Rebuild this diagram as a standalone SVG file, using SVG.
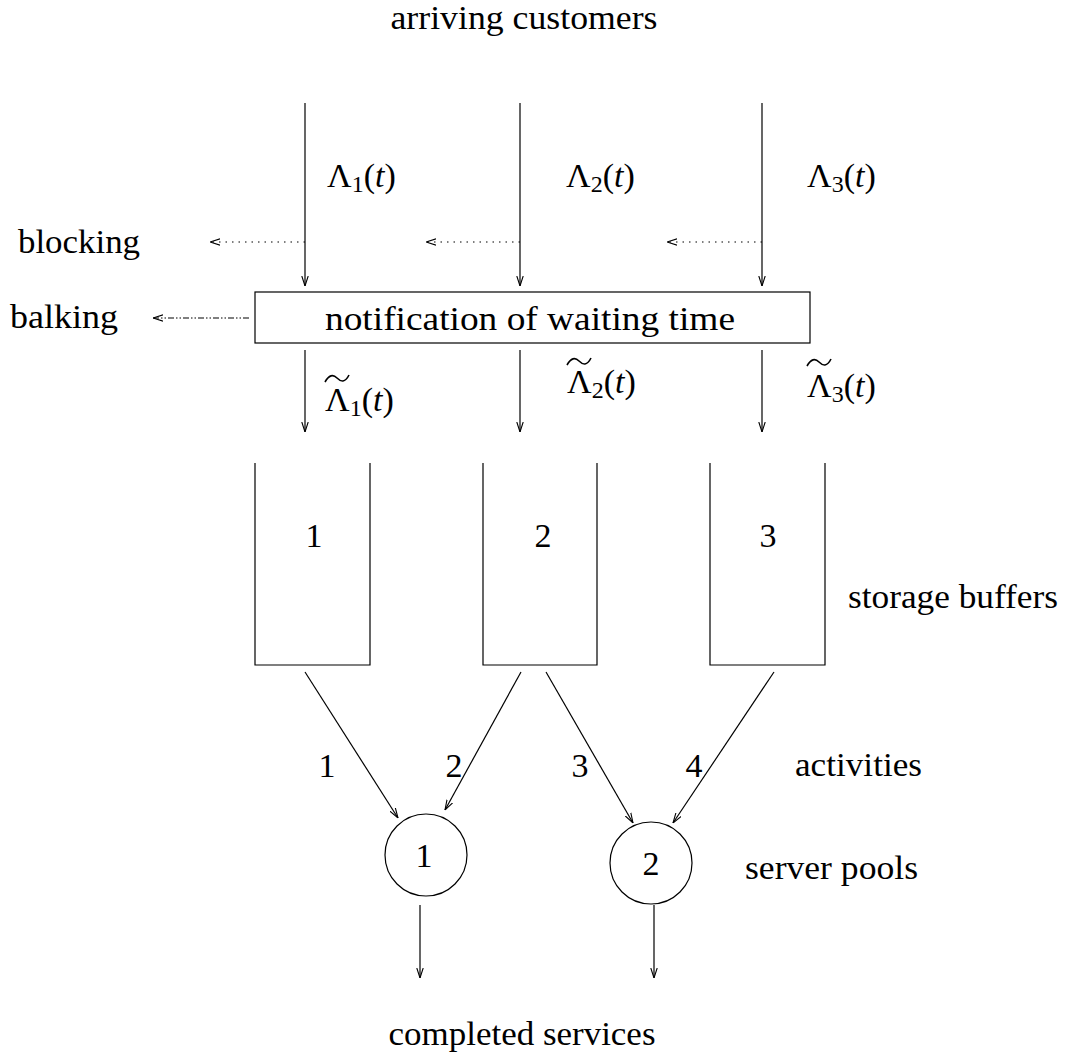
<svg xmlns="http://www.w3.org/2000/svg" width="1068" height="1057" viewBox="0 0 1068 1057">
<style>
text{font-family:"Liberation Serif","DejaVu Serif",serif;fill:#000;font-size:34px}
.sub{font-size:24px}
.it{font-style:italic}
.ln{stroke:#000;stroke-width:1.2;fill:none}
.dot{stroke:#000;stroke-width:1.2;fill:none;stroke-dasharray:1.5 5}
.dd{stroke:#000;stroke-width:1.2;fill:none;stroke-dasharray:6 2 1.5 2 1.5 2}
.shape{stroke:#000;stroke-width:1.2;fill:none}
.tilde{stroke:#000;stroke-width:1.6;fill:none}
</style>
<defs>
<marker id="ah" viewBox="0 0 10 8" refX="10" refY="4" markerWidth="10" markerHeight="8" markerUnits="userSpaceOnUse" orient="auto">
<path d="M0,0.8 L10,4 L0,7.2" fill="none" stroke="#000" stroke-width="1.1"/>
</marker>
<path id="tl" d="M0,7 C4,0 8,-1 12,3 S20,8 24,0"/>
</defs>
<rect width="1068" height="1057" fill="#fff"/>

<g id="connectors">
<line class="ln" x1="305" y1="103" x2="305" y2="286" marker-end="url(#ah)"/>
<line class="ln" x1="520" y1="103" x2="520" y2="286" marker-end="url(#ah)"/>
<line class="ln" x1="762" y1="103" x2="762" y2="286" marker-end="url(#ah)"/>
<line class="dot" x1="305" y1="242" x2="210" y2="242" marker-end="url(#ah)"/>
<line class="dot" x1="520" y1="242" x2="426" y2="242" marker-end="url(#ah)"/>
<line class="dot" x1="762" y1="242" x2="667" y2="242" marker-end="url(#ah)"/>
<line class="dd" x1="249" y1="318" x2="153" y2="318" marker-end="url(#ah)"/>
<line class="ln" x1="305" y1="350" x2="305" y2="432" marker-end="url(#ah)"/>
<line class="ln" x1="520" y1="350" x2="520" y2="432" marker-end="url(#ah)"/>
<line class="ln" x1="762" y1="350" x2="762" y2="432" marker-end="url(#ah)"/>
<line class="ln" x1="305" y1="672" x2="398" y2="818" marker-end="url(#ah)"/>
<line class="ln" x1="521" y1="672" x2="445" y2="810" marker-end="url(#ah)"/>
<line class="ln" x1="546" y1="672" x2="633" y2="823" marker-end="url(#ah)"/>
<line class="ln" x1="774" y1="672" x2="673" y2="823" marker-end="url(#ah)"/>
<line class="ln" x1="420" y1="905" x2="420" y2="978" marker-end="url(#ah)"/>
<line class="ln" x1="654" y1="905" x2="654" y2="978" marker-end="url(#ah)"/>
</g>

<g id="notification">
<rect class="shape" x="255" y="292" width="555" height="51"/>
<text x="530" y="330" text-anchor="middle" textLength="410" lengthAdjust="spacingAndGlyphs">notification of waiting time</text>
</g>

<g id="buffer1">
<path class="shape" d="M255,463 V665 H370 V463"/>
<text x="314" y="547" text-anchor="middle">1</text>
</g>
<g id="buffer2">
<path class="shape" d="M483,463 V665 H597 V463"/>
<text x="543" y="547" text-anchor="middle">2</text>
</g>
<g id="buffer3">
<path class="shape" d="M710,463 V665 H825 V463"/>
<text x="768" y="547" text-anchor="middle">3</text>
</g>

<g id="pool1">
<circle class="shape" cx="426" cy="855" r="41"/>
<text x="424" y="867" text-anchor="middle">1</text>
</g>
<g id="pool2">
<circle class="shape" cx="651" cy="863" r="41"/>
<text x="651" y="875" text-anchor="middle">2</text>
</g>

<g id="labels">
<text x="524" y="29" font-size="32" text-anchor="middle" textLength="267" lengthAdjust="spacingAndGlyphs">arriving customers</text>
<text x="18" y="253" textLength="122" lengthAdjust="spacingAndGlyphs">blocking</text>
<text x="10" y="328" textLength="108" lengthAdjust="spacingAndGlyphs">balking</text>
<text x="848" y="608" textLength="210" lengthAdjust="spacingAndGlyphs">storage buffers</text>
<text x="795" y="776" textLength="127" lengthAdjust="spacingAndGlyphs">activities</text>
<text x="745" y="879" textLength="173" lengthAdjust="spacingAndGlyphs">server pools</text>
<text x="522" y="1045" text-anchor="middle" textLength="267" lengthAdjust="spacingAndGlyphs">completed services</text>

<text x="327" y="777" text-anchor="middle">1</text>
<text x="454" y="777" text-anchor="middle">2</text>
<text x="580" y="777" text-anchor="middle">3</text>
<text x="694" y="777" text-anchor="middle">4</text>

<text x="327" y="187">Λ<tspan class="sub" dy="5">1</tspan><tspan dy="-5">(</tspan><tspan class="it">t</tspan>)</text>
<text x="566" y="187">Λ<tspan class="sub" dy="5">2</tspan><tspan dy="-5">(</tspan><tspan class="it">t</tspan>)</text>
<text x="807" y="187">Λ<tspan class="sub" dy="5">3</tspan><tspan dy="-5">(</tspan><tspan class="it">t</tspan>)</text>

<text x="325" y="411">Λ<tspan class="sub" dy="5">1</tspan><tspan dy="-5">(</tspan><tspan class="it">t</tspan>)</text>
<text x="567" y="393">Λ<tspan class="sub" dy="5">2</tspan><tspan dy="-5">(</tspan><tspan class="it">t</tspan>)</text>
<text x="807" y="397">Λ<tspan class="sub" dy="5">3</tspan><tspan dy="-5">(</tspan><tspan class="it">t</tspan>)</text>
<use href="#tl" class="tilde" x="325" y="375"/>
<use href="#tl" class="tilde" x="567" y="358"/>
<use href="#tl" class="tilde" x="807" y="359"/>
</g>
</svg>
